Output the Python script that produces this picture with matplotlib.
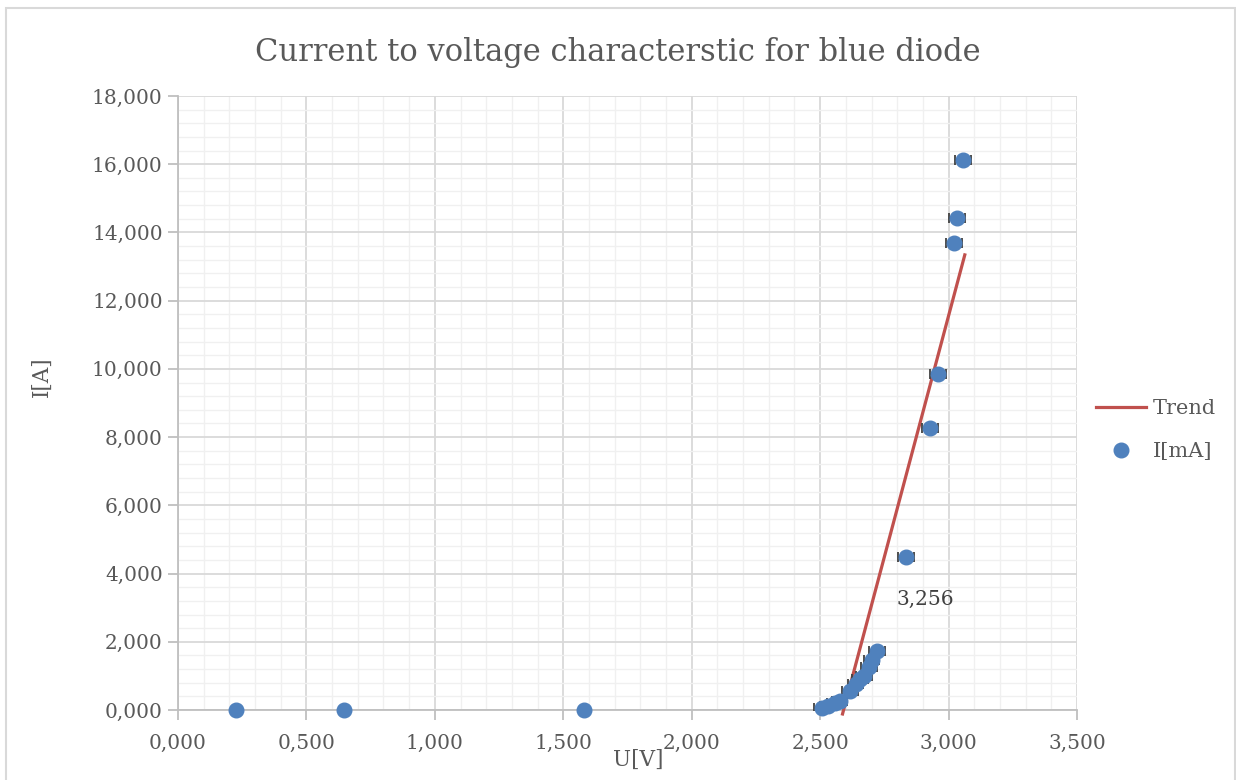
# -*- coding:utf-8 -*-

import numpy as np
import matplotlib
matplotlib.use("Agg")
import matplotlib.pyplot as plt
from matplotlib.ticker import MultipleLocator, FuncFormatter
from matplotlib.patches import Rectangle

plt.rcParams['font.family'] = ['DejaVu Serif']

# measured points, U[V] and I[mA]
U_data = [0.226, 0.646, 1.580, 2.507, 2.530, 2.557, 2.576, 2.616, 2.638, 2.655,
          2.670, 2.690, 2.700, 2.721, 2.834, 2.927, 2.958, 3.021, 3.032, 3.056]
I_data = [0.0, 0.0, 0.0, 0.06, 0.12, 0.20, 0.26, 0.56, 0.76, 0.90,
          1.00, 1.26, 1.48, 1.73, 4.49, 8.27, 9.85, 13.70, 14.43, 16.13]
U_err = [0.0, 0.0, 0.0, 0.03, 0.03, 0.03, 0.03, 0.03, 0.03, 0.03,
         0.03, 0.03, 0.03, 0.03, 0.03, 0.03, 0.03, 0.03, 0.03, 0.03]

# linear trend line
trend_slope = 28.27
trend_intercept = -73.25
trend_range = [2.587, 3.063]

label_value = 3.256
label_pos = 2.91

text_color = "#595959"
fig = plt.figure(figsize=(12.36, 7.8), dpi=100)
ax = fig.add_axes([0.144, 0.0897, 0.7274, 0.7873])

tx = np.array(trend_range)
ax.plot(tx, trend_slope * tx + trend_intercept, color="#c0504d", linewidth=2.3,
        label="Trend", zorder=3, clip_on=False)
ax.errorbar(U_data, I_data, xerr=U_err, fmt="none", ecolor="#404040",
            elinewidth=1.3, capsize=3.5, capthick=1.3, zorder=4)
ax.plot(U_data, I_data, "o", color="#4f81bd", markersize=10.5, label="I[mA]",
        zorder=5, clip_on=False)

ax.text(label_pos, label_value, ("%.3f" % label_value).replace(".", ","),
        ha="center", va="center", fontsize=14.5, color="#404040")

ax.set_xlim(0, 3.5)
ax.set_ylim(0, 18)
ax.xaxis.set_major_locator(MultipleLocator(0.5))
ax.xaxis.set_minor_locator(MultipleLocator(0.1))
ax.yaxis.set_major_locator(MultipleLocator(2))
ax.yaxis.set_minor_locator(MultipleLocator(0.4))
fmt = FuncFormatter(lambda v, p: ("%.3f" % v).replace(".", ","))
ax.xaxis.set_major_formatter(fmt)
ax.yaxis.set_major_formatter(fmt)

ax.grid(which="major", color="#d9d9d9", linewidth=1.3, zorder=0)
ax.grid(which="minor", color="#f0f0f0", linewidth=1.0, zorder=0)
ax.set_axisbelow(True)
for s in ["top", "right"]:
    ax.spines[s].set_visible(False)
for s in ["left", "bottom"]:
    ax.spines[s].set_color("#bfbfbf")
    ax.spines[s].set_linewidth(1.3)
ax.tick_params(which="major", direction="out", length=7, width=1.3, color="#bfbfbf",
               labelsize=14.5, labelcolor=text_color, pad=4)
ax.tick_params(which="minor", length=0)
ax.tick_params(axis="x", pad=10)

fig.text(618, 780 - 52, "Current to voltage characterstic for blue diode",
         transform=None, ha="center", va="center", fontsize=22, color=text_color)
fig.text(42, 780 - 377, "I[A]", transform=None, rotation=90, ha="center", va="center",
         fontsize=15.5, color=text_color)
fig.text(638, 780 - 760, "U[V]", transform=None, ha="center", va="center",
         fontsize=15.5, color=text_color)

fig.legend(loc="center left", bbox_to_anchor=(1077 / 1236, 1 - 430 / 780), frameon=False,
           fontsize=15, handlelength=2.4, handletextpad=0.35, labelspacing=1.15,
           labelcolor=text_color)

fig.patches.append(Rectangle((6 / 1236, -0.1), 1229 / 1236, 1.1 - 8 / 780,
                             transform=fig.transFigure, fill=False,
                             edgecolor="#d9d9d9", linewidth=1.5))

plt.savefig("out.png", dpi=100)
